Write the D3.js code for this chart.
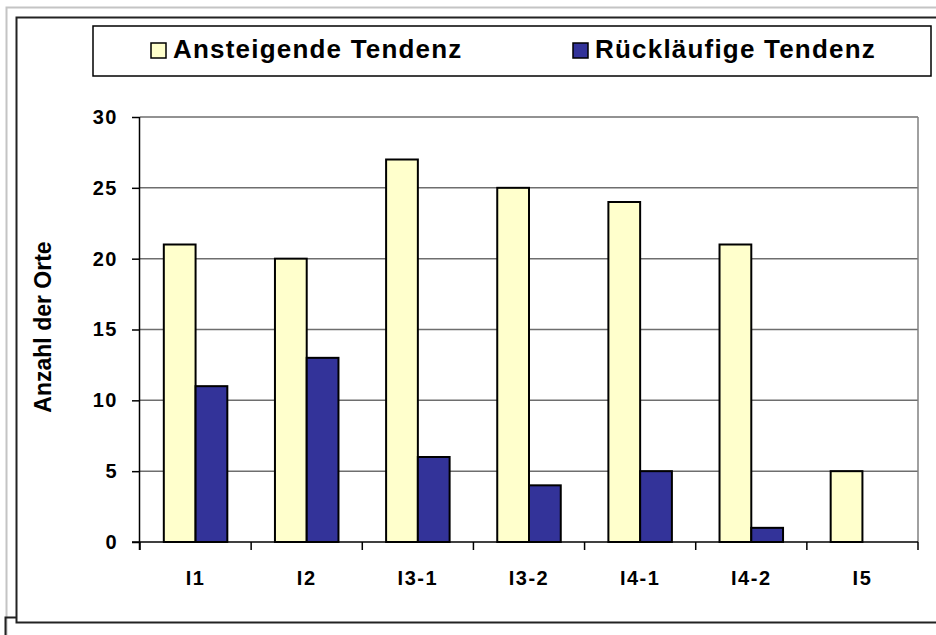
<!DOCTYPE html>
<html>
<head>
<meta charset="utf-8">
<script src="https://cdn.jsdelivr.net/npm/d3@7"></script>
<style>
  html, body { margin: 0; padding: 0; background: #fff; }
  svg { display: block; font-family: "Liberation Sans", Arial, sans-serif; font-weight: bold; }
</style>
</head>
<body>
<svg id="chart" width="936" height="635"></svg>
<script>
const categories = ["I1", "I2", "I3-1", "I3-2", "I4-1", "I4-2", "I5"];
const seriesNames = ["Ansteigende Tendenz", "Rückläufige Tendenz"];
const ansteigend = [21, 20, 27, 25, 24, 21, 5];
const ruecklaeufig = [11, 13, 6, 4, 5, 1, 0];
const yTicks = [0, 5, 10, 15, 20, 25, 30];
const seriesColors = ["#FFFFCC", "#333399"];
const yTitle = "Anzahl der Orte";

(function () {
const svg = d3.select("#chart");

// outer frames
svg.append("path").attr("d", "M6.5,635 V7.5 H936").attr("fill", "none").attr("stroke", "#c4c4c4").attr("stroke-width", 2);
svg.append("path").attr("d", "M5.5,640 V617.5 H940").attr("fill", "none").attr("stroke", "#222").attr("stroke-width", 2);
svg.append("path").attr("d", "M940,622.5 H16.5 V17.5 H940").attr("fill", "#fff").attr("stroke", "#222").attr("stroke-width", 2);

// legend
svg.append("rect").attr("x", 93).attr("y", 26).attr("width", 838).attr("height", 50)
  .attr("fill", "#fff").attr("stroke", "#000").attr("stroke-width", 1.5);
const legendX = [151, 573];
seriesNames.forEach((name, i) => {
  svg.append("rect").attr("x", legendX[i]).attr("y", 43).attr("width", 15).attr("height", 15)
    .attr("fill", seriesColors[i]).attr("stroke", "#000").attr("stroke-width", 1.5);
  svg.append("text").attr("x", legendX[i] + 22).attr("y", 57.5)
    .attr("font-size", 26).attr("letter-spacing", "1.2px").attr("fill", "#000").text(name);
});

// plot
const pLeft = 140, pRight = 918, pTop = 117, pBottom = 542;
const x0 = d3.scaleBand().domain(categories).range([pLeft, pRight]).padding(0);
const x1 = d3.scaleBand().domain([0, 1]).range([0, x0.bandwidth()]).paddingInner(0).paddingOuter(0.75);
const y = d3.scaleLinear().domain([0, 30]).range([pBottom, pTop]);

// gridlines
svg.append("g").selectAll("line").data(yTicks.filter(d => d > 0)).join("line")
  .attr("x1", pLeft).attr("x2", pRight).attr("y1", d => y(d)).attr("y2", d => y(d))
  .attr("stroke", "#6e6e6e").attr("stroke-width", 1.5);
svg.append("line").attr("x1", pRight).attr("x2", pRight).attr("y1", y(30)).attr("y2", y(0))
  .attr("stroke", "#808080").attr("stroke-width", 1.5);

// bars
const data = [ansteigend, ruecklaeufig];
categories.forEach((c, ci) => {
  data.forEach((vals, si) => {
    const v = vals[ci];
    if (v <= 0) return;
    svg.append("rect")
      .attr("x", x0(c) + x1(si)).attr("y", y(v))
      .attr("width", x1.bandwidth()).attr("height", y(0) - y(v))
      .attr("fill", seriesColors[si]).attr("stroke", "#000").attr("stroke-width", 2);
  });
});

// y axis
const yAxis = svg.append("g").attr("transform", `translate(${pLeft},0)`)
  .call(d3.axisLeft(y).tickValues(yTicks).tickSize(8).tickPadding(14).tickFormat(d3.format("d")));
yAxis.select(".domain").attr("stroke", "#000").attr("stroke-width", 1.5).attr("d", `M-0.5,${pTop}V${pBottom + 8}`);
yAxis.selectAll(".tick line").attr("stroke", "#000").attr("stroke-width", 1.5);
yAxis.selectAll(".tick text").attr("font-size", 20).attr("letter-spacing", "1.5px")
  .attr("font-family", "Liberation Sans, Arial, sans-serif").attr("font-weight", "bold").attr("fill", "#000");

// x axis
const xAxis = svg.append("g").attr("transform", `translate(0,${pBottom})`)
  .call(d3.axisBottom(x0).tickSize(0).tickPadding(29));
xAxis.select(".domain").attr("stroke", "#000").attr("stroke-width", 1.5).attr("d", `M${pLeft - 8},0H${pRight}`);
xAxis.selectAll(".tick text").attr("font-size", 20).attr("letter-spacing", "1.5px")
  .attr("font-family", "Liberation Sans, Arial, sans-serif").attr("font-weight", "bold").attr("fill", "#000");
const bounds = categories.map(c => x0(c)).concat([x0(categories[categories.length - 1]) + x0.bandwidth()]);
xAxis.append("g").selectAll("line").data(bounds).join("line")
  .attr("x1", d => d).attr("x2", d => d).attr("y1", 0).attr("y2", 8)
  .attr("stroke", "#000").attr("stroke-width", 1.5);

// y title
svg.append("text").attr("transform", "translate(51,327) rotate(-90)")
  .attr("text-anchor", "middle").attr("font-size", 23).attr("fill", "#000").text(yTitle);
})();
</script>
</body>
</html>
